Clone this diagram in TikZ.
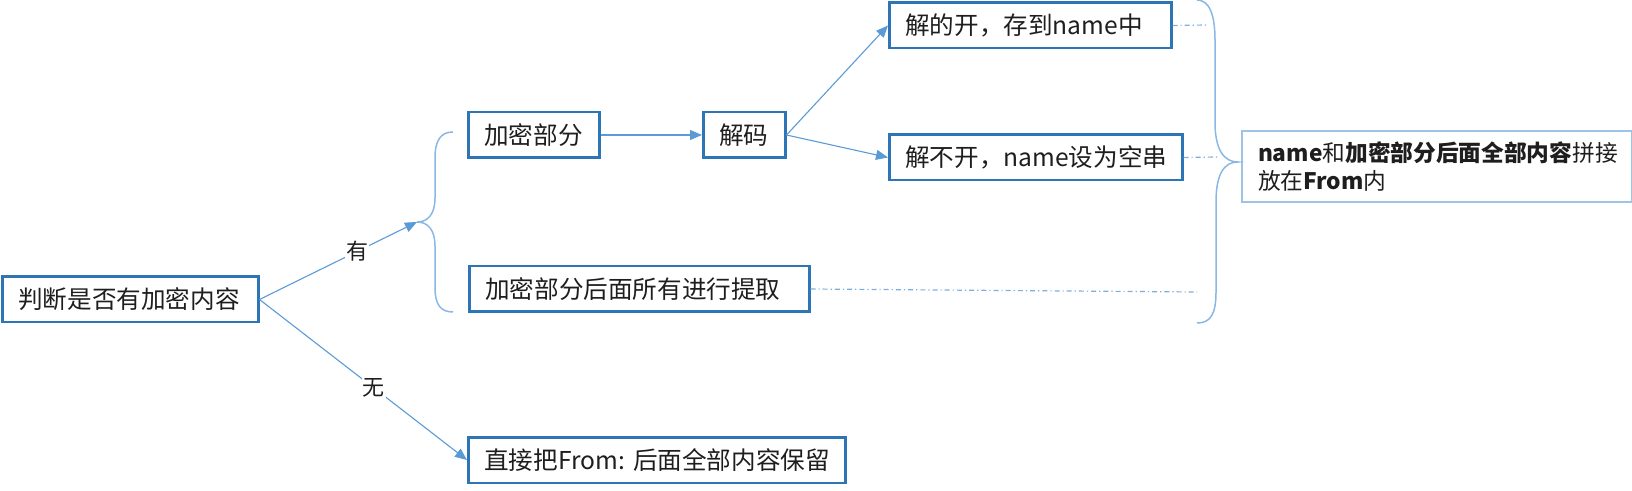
\documentclass[tikz,border=0pt]{standalone}
\usepackage{fontspec}
\setmainfont{Noto Sans CJK SC}
\usetikzlibrary{arrows.meta}
\definecolor{boxblue}{HTML}{2E75B6}
\definecolor{arrowblue}{HTML}{5B9BD5}
\definecolor{braceblue}{HTML}{8AB8E4}
\definecolor{lightbox}{HTML}{9DC3E6}
\definecolor{txt}{HTML}{1E1E1E}
\tikzset{
  stepbox/.style={draw=boxblue, line width=1.25pt, inner xsep=8pt, inner ysep=0pt,
    minimum height=22.75pt, align=left, anchor=west, text=txt,
    font=\fontsize{12.3}{15}\selectfont},
  resbox/.style={draw=lightbox, line width=1pt, inner xsep=8pt, inner ysep=0pt,
    minimum height=35.5pt, align=left, anchor=west, text=txt, text width=179pt,
    font=\fontsize{11.35}{14}\selectfont},
  flow/.style={draw=arrowblue, line width=0.55pt, -{Triangle[length=6pt,width=5pt]}},
  bracel/.style={draw=braceblue, line width=0.75pt},
  dotline/.style={draw=arrowblue!80, line width=0.6pt, dash pattern=on 2.5pt off 1.5pt on 0.6pt off 1.5pt},
  lbl/.style={fill=white, inner sep=0.5pt, text=txt, font=\fontsize{11}{13}\selectfont}
}
\begin{document}
\begin{tikzpicture}[x=0.5pt,y=-0.5pt]
\useasboundingbox (0,0) rectangle (1632,491);
% nodes
\node[stepbox, text width=112pt] (b1) at (1,299.5) {判断是否有加密内容};
\node[stepbox, text width=49.5pt] (enc) at (467,135) {加密部分};
\node[stepbox, text width=25pt] (dec) at (702,135) {解码};
\node[stepbox, text width=125pt] (ok) at (888,25.5) {解的开，存到name中};
\node[stepbox, text width=130.5pt] (fail) at (888,157.5) {解不开，name设为空串};
\node[stepbox, text width=154pt] (rest) at (468,289) {加密部分后面所有进行提取};
\node[stepbox, text width=172.5pt] (none) at (467,460) {直接把From:~后面全部内容保留};
\node[resbox] (res) at (1241,166.5) {\textbf{name}和\textbf{加密部分后面全部内容}拼接\\放在\textbf{From}内};
% brace tips and free ends
\coordinate (ltip) at (417,222);
\coordinate (rtip) at (1238,162);
\coordinate (okend) at (1208,25);
\coordinate (failend) at (1218,157);
\coordinate (restend) at (1197,292);
% braces
\draw[bracel] (453,132) .. controls (441,132) and (435,140) .. (435,158) -- (435,198)
  .. controls (435,214) and (428,222) .. (ltip)
  .. controls (428,222) and (435,230) .. (435,246) -- (435,288)
  .. controls (435,305) and (441,312) .. (453,312);
\draw[bracel] (1197,0) .. controls (1209,0) and (1215,14) .. (1215,40) -- (1215,122)
  .. controls (1215,150) and (1224,162) .. (rtip)
  .. controls (1224,162) and (1216,174) .. (1216,202) -- (1216,292)
  .. controls (1216,315) and (1210,323) .. (1197,323);
% connectors
\draw[flow] (b1.east) -- node[lbl, pos=0.62] {有} (ltip);
\draw[flow] (b1.east) -- node[lbl, pos=0.55] {无} (none.west);
\draw[flow] (enc.east) -- (dec.west);
\draw[flow] (dec.east) -- (ok.west);
\draw[flow] (dec.east) -- (fail.west);
\draw[dotline] (ok.east) -- (okend);
\draw[dotline] (fail.east) -- (failend);
\draw[dotline] (rest.east) -- (restend);
\end{tikzpicture}
\end{document}
